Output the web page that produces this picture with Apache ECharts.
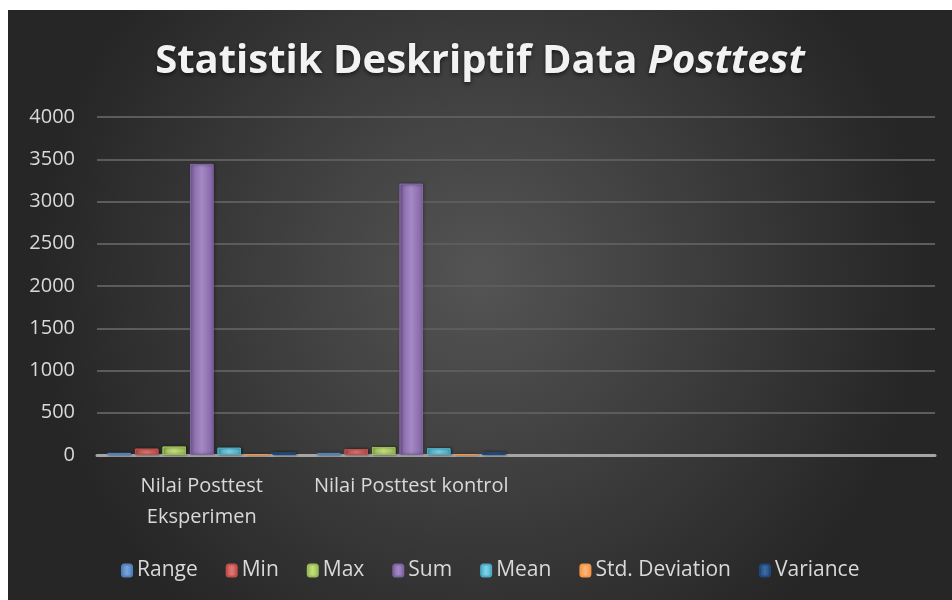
<!DOCTYPE html>
<html>
<head>
<meta charset="utf-8">
<script src="https://cdn.jsdelivr.net/npm/echarts@6/dist/echarts.min.js"></script>
<style>
  html, body { margin: 0; padding: 0; background: #fff; }
  #chart { position: absolute; left: 8px; top: 10px; width: 944px; height: 590px; }
</style>
</head>
<body>
<div id="chart"></div>
<script>
// categories (last two are empty slots, as in the original sheet)
const categories = ['Nilai Posttest\nEksperimen', 'Nilai Posttest kontrol', '', '']
const seriesNames = ['Range', 'Min', 'Max', 'Sum', 'Mean', 'Std. Deviation', 'Variance']
// values per statistic: [eksperimen, kontrol]
const rangeVals = [25, 25]
const minVals = [75, 70]
const maxVals = [100, 95]
const sumVals = [3445, 3210]
const meanVals = [86.13, 80.25]
const stdVals = [5.6, 5.8]
const varVals = [31.4, 33.6]
const yTicks = { min: 0, max: 4000, interval: 500 }

const colors = ['#4f81bd', '#c0504d', '#9bbb59', '#8064a2', '#4bacc6', '#f79646', '#1f497d']
const lights = ['#7ba3d8', '#e57773', '#c2e07a', '#a489c6', '#7fd4ea', '#fbb57a', '#3f6aa3']
const allVals = [rangeVals, minVals, maxVals, sumVals, meanVals, stdVals, varVals]

function pad(arr) {
  return arr.concat(categories.slice(arr.length).map(() => '-'))
}

const chart = echarts.init(document.getElementById('chart'))

const titleStyle = {
  fontSize: 40, fontWeight: 'bold', color: '#f2f2f2', fontFamily: 'Open Sans',
  textShadowColor: 'rgba(0,0,0,0.6)', textShadowBlur: 4, textShadowOffsetY: 2
}

chart.setOption({
  backgroundColor: {
    type: 'radial', x: 0.5, y: 0.45, r: 0.75,
    colorStops: [
      { offset: 0, color: '#545454' },
      { offset: 1, color: '#262626' }
    ]
  },
  textStyle: { fontFamily: 'Open Sans' },
  title: {
    text: '{a|Statistik Deskriptif Data }{b|Posttest}',
    left: 'center',
    top: 27,
    textStyle: {
      rich: {
        a: titleStyle,
        b: Object.assign({}, titleStyle, { fontStyle: 'italic' })
      }
    }
  },
  legend: {
    data: seriesNames,
    bottom: 14,
    left: 108,
    itemWidth: 10,
    itemHeight: 12,
    itemGap: 28,
    textStyle: { color: '#d9d9d9', fontSize: 21 }
  },
  grid: { left: 89, right: 17, top: 107, bottom: 145, containLabel: false },
  xAxis: {
    type: 'category',
    data: categories,
    axisLine: { lineStyle: { color: '#a6a6a6', width: 3 } },
    axisTick: { show: false },
    axisLabel: { color: '#d9d9d9', fontSize: 20, lineHeight: 31, margin: 16, interval: 0 }
  },
  yAxis: {
    type: 'value',
    min: yTicks.min,
    max: yTicks.max,
    interval: yTicks.interval,
    axisLine: { show: false },
    axisTick: { show: false },
    axisLabel: { color: '#d9d9d9', fontSize: 20, margin: 22, formatter: v => String(v) },
    splitLine: { lineStyle: { color: '#5c5c5c', width: 2 } }
  },
  series: seriesNames.map((name, i) => ({
    name: name,
    type: 'bar',
    data: pad(allVals[i]),
    barGap: '17%',
    barCategoryGap: '10%',
    itemStyle: {
      color: {
        type: 'linear', x: 0, y: 0, x2: 1, y2: 0,
        colorStops: [
          { offset: 0, color: colors[i] },
          { offset: 0.5, color: lights[i] },
          { offset: 1, color: colors[i] }
        ]
      },
      borderColor: colors[i],
      borderWidth: 1,
      shadowColor: 'rgba(0,0,0,0.5)',
      shadowBlur: 3,
      shadowOffsetX: 1
    }
  }))
})
</script>
</body>
</html>
